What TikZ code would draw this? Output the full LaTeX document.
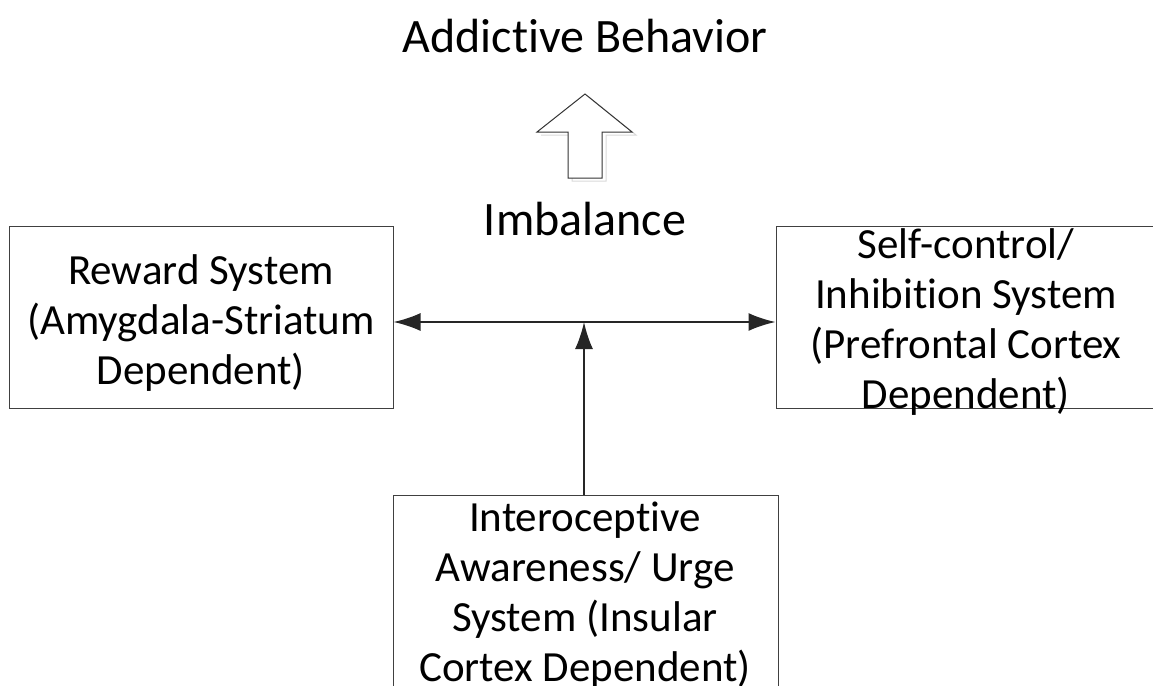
\documentclass[tikz,border=0pt]{standalone}
\usepackage{fontspec}
\setmainfont{Carlito}[Ligatures={NoCommon}]
\usetikzlibrary{arrows.meta}
\begin{document}
\begin{tikzpicture}[x=1pt,y=-1pt,
  boxshape/.style={draw=black!75,line width=1pt,rectangle,inner sep=0pt},
  label/.style={font=\fontsize{43}{50}\selectfont,align=center,inner sep=0pt,text=black},
  biglabel/.style={font=\fontsize{48}{56}\selectfont,align=center,inner sep=0pt,text=black},
  conn/.style={line width=2pt,draw=black!85,{Latex[length=27pt,width=18pt]}-{Latex[length=27pt,width=18pt]}},
  connup/.style={line width=2pt,draw=black!85,-{Latex[length=27pt,width=18pt]}}]
\useasboundingbox (0,0) rectangle (1153,685);
\begin{scope}
\clip (0,0) rectangle (1153,685);
% boxes
\node[boxshape,minimum width=384pt,minimum height=182pt] (reward) at (201,317) {};
\node[boxshape,minimum width=380pt,minimum height=182pt] (self) at (966,317) {};
\node[boxshape,minimum width=385pt,minimum height=240pt] (intero) at (585.5,615) {};
% texts
\node[label] (rewardtxt) at (201,323) {Reward System\\(Amygdala-Striatum\\Dependent)};
\node[label] (selftxt) at (966,322) {Self-control/\\Inhibition System\\(Prefrontal Cortex\\Dependent)};
\node[label,anchor=north] (interotxt) at (585,502) {Interoceptive\\Awareness/ Urge\\System (Insular\\Cortex Dependent)};
\end{scope}
\node[biglabel] (title) at (585,36) {Addictive Behavior};
\node[biglabel] (imb) at (585,219) {Imbalance};
% block arrow with faint shadow
\coordinate (tip) at (585,94);
\draw[black!15,line width=1pt] (589,97) -- (636,135) -- (606,135) -- (606,181) -- (572,181) -- (572,135) -- (541,135);
\filldraw[fill=white,draw=black!80,line width=1pt] (tip) -- (632,132) -- (602,132) -- (602,178) -- (568,178) -- (568,132) -- (537,132) -- cycle;
% connectors
\draw[conn] (reward.east |- 0,322) -- (self.west |- 0,322);
\coordinate (meet) at (584,322);
\draw[connup] (intero.north -| meet) -- (meet);
\end{tikzpicture}
\end{document}
